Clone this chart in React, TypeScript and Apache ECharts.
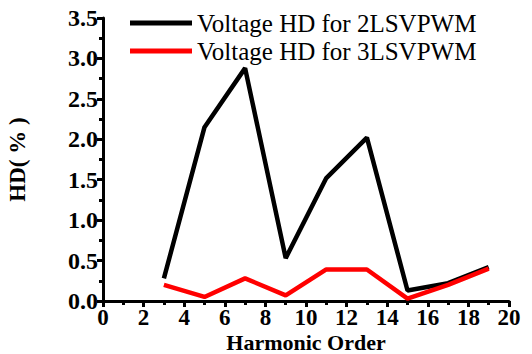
import React, { useEffect, useRef } from "react";
import * as echarts from "echarts";

const harmonicOrders = [3, 5, 7, 9, 11, 13, 15, 17, 19];
const hd2L = [0.28, 2.15, 2.88, 0.53, 1.52, 2.02, 0.13, 0.22, 0.42];
const hd3L = [0.2, 0.05, 0.28, 0.07, 0.39, 0.39, 0.03, 0.2, 0.4];
const seriesNames = ["Voltage HD for 2LSVPWM", "Voltage HD for 3LSVPWM"];

const serif = "Times New Roman, Liberation Serif, serif";

export default function App() {
  const ref = useRef<HTMLDivElement>(null);
  useEffect(() => {
    if (!ref.current) return;
    const chart = echarts.init(ref.current, null, { renderer: "svg" });
    const axisCommon = {
      axisLine: { show: true, lineStyle: { color: "#000", width: 3 } },
      axisTick: { show: true, inside: false, length: 6, lineStyle: { color: "#000", width: 3 } },
      minorTick: { show: true, splitNumber: 2, length: 4, lineStyle: { color: "#000", width: 3 } },
      splitLine: { show: false },
      axisLabel: { color: "#000", fontFamily: serif, fontWeight: "bold", fontSize: 24 },
      nameTextStyle: { color: "#000", fontFamily: serif, fontWeight: "bold", fontSize: 23 },
    };
    chart.setOption({
      animation: false,
      backgroundColor: "#fff",
      textStyle: { fontFamily: serif },
      grid: { left: 103, top: 18, right: 23, bottom: 53, outerBoundsMode: "none", containLabel: false },
      legend: {
        orient: "vertical",
        left: 125,
        top: 4,
        icon: "rect",
        itemWidth: 62,
        itemHeight: 5,
        itemGap: 0,
        textStyle: { color: "#000", fontFamily: serif, fontSize: 25, lineHeight: 28 },
        data: seriesNames,
      },
      xAxis: {
        type: "value",
        min: 0,
        max: 20,
        interval: 2,
        name: "Harmonic Order",
        nameLocation: "middle",
        nameGap: 31,
        nameMoveOverlap: false,
        ...axisCommon,
        axisLabel: { ...axisCommon.axisLabel, fontSize: 23, lineHeight: 22, margin: 5 },
        nameTextStyle: { ...axisCommon.nameTextStyle, fontSize: 22, lineHeight: 21 },
      },
      yAxis: {
        type: "value",
        min: 0,
        max: 3.5,
        interval: 0.5,
        name: "HD( % )",
        nameLocation: "middle",
        nameGap: 74,
        nameMoveOverlap: false,
        ...axisCommon,
        axisLabel: {
          ...axisCommon.axisLabel,
          margin: 5,
          formatter: (v: number) => v.toFixed(1),
        },
      },
      series: [
        {
          name: seriesNames[0],
          type: "line",
          data: harmonicOrders.map((x, i) => [x, hd2L[i]]),
          symbol: "none",
          lineStyle: { color: "#000", width: 4.5 },
          itemStyle: { color: "#000" },
        },
        {
          name: seriesNames[1],
          type: "line",
          data: harmonicOrders.map((x, i) => [x, hd3L[i]]),
          symbol: "none",
          lineStyle: { color: "#ff0000", width: 4.5 },
          itemStyle: { color: "#ff0000" },
        },
      ],
    });
    return () => chart.dispose();
  }, []);
  return <div ref={ref} style={{ width: 532, height: 354, position: "absolute", left: 0, top: 0 }} />;
}
